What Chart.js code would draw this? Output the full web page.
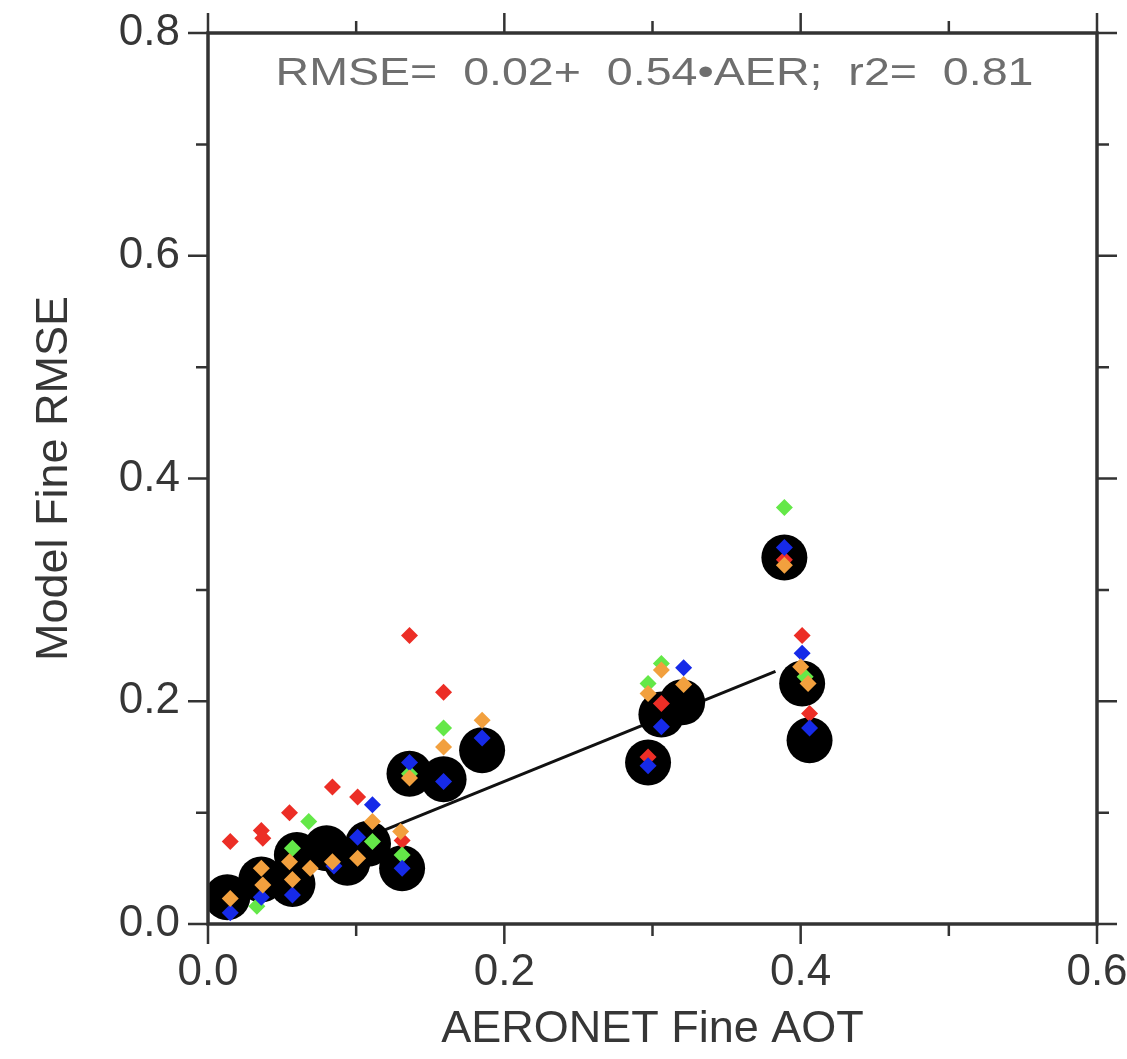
<!DOCTYPE html>
<html>
<head>
<meta charset="utf-8">
<script src="https://cdn.jsdelivr.net/npm/chart.js@4.4.1/dist/chart.umd.min.js"></script>
<style>
  html, body { margin: 0; padding: 0; background: #ffffff; }
  #wrap { width: 1127px; height: 1059px; }
</style>
</head>
<body>
<div id="wrap"><canvas id="c" width="1127" height="1059"></canvas></div>
<script>
// AERONET fine-mode AOT per site (x) and mean model fine RMSE (y): large black dots
const siteAOT  = [0.013, 0.036, 0.057, 0.060, 0.080, 0.094, 0.108, 0.131, 0.136, 0.159, 0.185, 0.297, 0.306, 0.320, 0.389, 0.401, 0.406];
const siteRMSE = [0.024, 0.040, 0.036, 0.062, 0.068, 0.055, 0.072, 0.050, 0.135, 0.130, 0.156, 0.145, 0.188, 0.199, 0.329, 0.216, 0.165];

// Individual model runs (small diamonds)
const redAOT     = [0.015, 0.036, 0.037, 0.055, 0.084, 0.101, 0.131, 0.136, 0.159, 0.297, 0.306, 0.389, 0.401, 0.406];
const redRMSE    = [0.074, 0.084, 0.077, 0.100, 0.123, 0.114, 0.075, 0.259, 0.208, 0.150, 0.198, 0.327, 0.259, 0.189];
const greenAOT   = [0.033, 0.057, 0.068, 0.111, 0.131, 0.136, 0.159, 0.297, 0.306, 0.389, 0.403];
const greenRMSE  = [0.016, 0.068, 0.092, 0.074, 0.062, 0.135, 0.176, 0.216, 0.234, 0.374, 0.222];
const blueAOT    = [0.015, 0.036, 0.057, 0.085, 0.101, 0.111, 0.131, 0.136, 0.159, 0.185, 0.297, 0.306, 0.321, 0.389, 0.401, 0.406];
const blueRMSE   = [0.010, 0.024, 0.026, 0.052, 0.078, 0.107, 0.050, 0.145, 0.128, 0.167, 0.142, 0.177, 0.230, 0.338, 0.243, 0.176];
const orangeAOT  = [0.015, 0.036, 0.037, 0.057, 0.055, 0.069, 0.084, 0.101, 0.111, 0.130, 0.136, 0.159, 0.185, 0.297, 0.306, 0.321, 0.389, 0.400, 0.405];
const orangeRMSE = [0.023, 0.050, 0.035, 0.040, 0.056, 0.050, 0.056, 0.059, 0.092, 0.083, 0.131, 0.159, 0.183, 0.207, 0.228, 0.215, 0.322, 0.231, 0.216];

// Linear fit stated in the panel
const fitIntercept = 0.02;
const fitSlope = 0.54;
const fitR2 = 0.81;
const fitRange = [0.013, 0.383];

// Axis tick labels
const xTickLabels = ['0.0', '0.2', '0.4', '0.6'];
const yTickLabels = ['0.0', '0.2', '0.4', '0.6', '0.8'];

const pairs = (xs, ys) => xs.map((x, i) => ({ x: x, y: ys[i] }));
const fitPoints = fitRange.map(x => ({ x: x, y: fitIntercept + fitSlope * x }));

const TEXT = '#363636';
const FONT = "'Liberation Sans', Arial, sans-serif";

// Box frame with outward major/minor ticks on all four sides
const framePlugin = {
  id: 'frame',
  afterDatasetsDraw(chart) {
    const { ctx, chartArea: a, scales } = chart;
    const xs = scales.x, ys = scales.y;
    ctx.save();
    ctx.strokeStyle = '#333333';
    ctx.lineCap = 'butt';
    ctx.lineWidth = 2.5;
    ctx.beginPath();
    for (let k = 0; k <= 6; k++) {
      const v = k / 10;
      const len = (k % 2 === 0) ? 20 : 12;
      const px = xs.getPixelForValue(v);
      ctx.moveTo(px, a.bottom); ctx.lineTo(px, a.bottom + len);
      ctx.moveTo(px, a.top); ctx.lineTo(px, a.top - len);
    }
    for (let k = 0; k <= 8; k++) {
      const v = k / 10;
      const len = (k % 2 === 0) ? 20 : 12;
      const py = ys.getPixelForValue(v);
      ctx.moveTo(a.left, py); ctx.lineTo(a.left - len, py);
      ctx.moveTo(a.right, py); ctx.lineTo(a.right + len, py);
    }
    ctx.stroke();
    ctx.lineWidth = 3.5;
    ctx.strokeRect(a.left, a.top, a.right - a.left, a.bottom - a.top);

    // regression equation
    const txt = 'RMSE=  ' + fitIntercept.toFixed(2) + '+  ' + fitSlope.toFixed(2) +
                '\u2022AER;  r2=  ' + fitR2.toFixed(2);
    ctx.font = "38px " + FONT;
    ctx.fillStyle = '#6e6e6e';
    ctx.textBaseline = 'middle';
    ctx.textAlign = 'left';
    const w = ctx.measureText(txt).width;
    const target = 758;
    const cx = (a.left + a.right) / 2 + 2;
    ctx.translate(cx - target / 2, a.top + 42);
    ctx.scale(target / w, 1);
    ctx.fillText(txt, 0, 0);
    ctx.restore();
  }
};

const diamond = (label, xs, ys, color, order) => ({
  label: label,
  data: pairs(xs, ys),
  pointStyle: 'rectRot',
  pointRadius: 8.5,
  pointHoverRadius: 8.5,
  backgroundColor: color,
  borderWidth: 0,
  order: order
});

new Chart(document.getElementById('c'), {
  type: 'scatter',
  data: {
    datasets: [
      {
        type: 'line',
        label: 'fit',
        data: fitPoints,
        borderColor: '#111111',
        borderWidth: 3,
        pointRadius: 0,
        fill: false,
        order: 7
      },
      {
        label: 'AERONET sites',
        data: pairs(siteAOT, siteRMSE),
        pointStyle: 'circle',
        pointRadius: 23,
        pointHoverRadius: 23,
        backgroundColor: '#000000',
        borderWidth: 0,
        order: 6
      },
      diamond('red', redAOT, redRMSE, 'rgb(236,46,38)', 4),
      diamond('green', greenAOT, greenRMSE, 'rgb(100,232,72)', 3),
      diamond('blue', blueAOT, blueRMSE, 'rgb(22,42,232)', 2),
      diamond('orange', orangeAOT, orangeRMSE, 'rgb(242,160,62)', 1)
    ]
  },
  options: {
    responsive: false,
    animation: false,
    devicePixelRatio: 1,
    layout: { padding: { left: 24, right: 30, top: 33, bottom: 0 } },
    plugins: { legend: { display: false }, tooltip: { enabled: false } },
    scales: {
      x: {
        type: 'linear',
        min: 0, max: 0.6,
        grid: { display: false },
        border: { display: false },
        ticks: {
          stepSize: 0.2,
          padding: 14,
          color: TEXT,
          font: { family: FONT, size: 44 },
          maxRotation: 0,
          callback: (v, i) => xTickLabels[i]
        },
        title: {
          display: true,
          text: 'AERONET Fine AOT',
          color: TEXT,
          font: { family: FONT, size: 45 },
          padding: { top: 4, bottom: 2 }
        },
        afterFit: s => { s.height = 135; s.paddingLeft = 0; s.paddingRight = 0; }
      },
      y: {
        type: 'linear',
        min: 0, max: 0.8,
        grid: { display: false },
        border: { display: false },
        ticks: {
          stepSize: 0.2,
          padding: 20,
          color: TEXT,
          font: { family: FONT, size: 44 },
          callback: (v, i) => yTickLabels[i]
        },
        title: {
          display: true,
          text: 'Model Fine RMSE',
          color: TEXT,
          font: { family: FONT, size: 45 },
          padding: { top: 4, bottom: 4 }
        },
        afterFit: s => { s.width = 184; s.paddingTop = 0; s.paddingBottom = 0; }
      }
    }
  },
  plugins: [framePlugin]
});
</script>
</body>
</html>
